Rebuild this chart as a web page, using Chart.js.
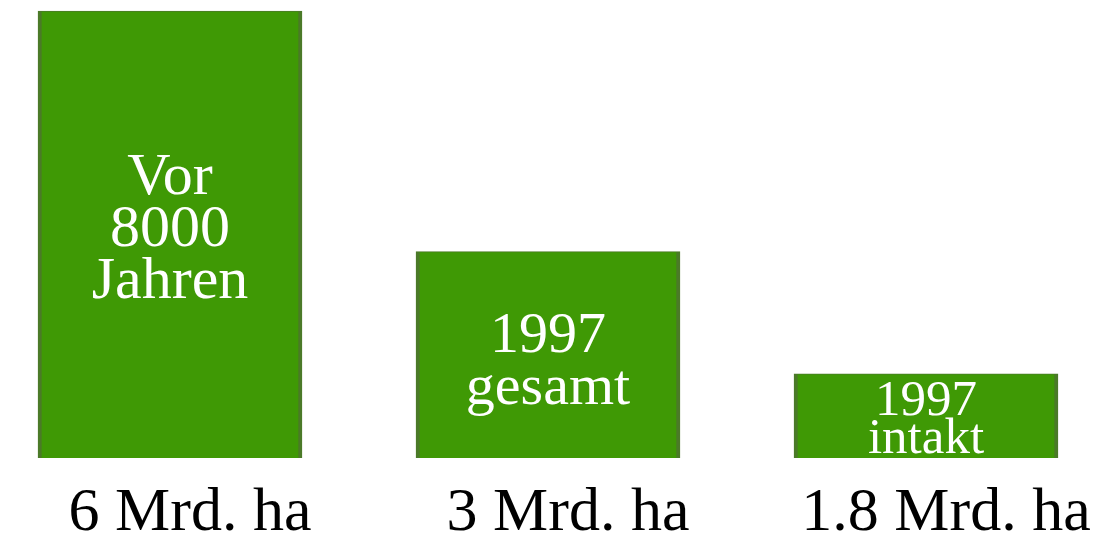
<!DOCTYPE html>
<html>
<head>
<meta charset="utf-8">
<script src="https://cdn.jsdelivr.net/npm/chart.js@4.4.0/dist/chart.umd.min.js"></script>
<style>
    html, body { margin: 0; padding: 0; background: #fff; }
</style>
</head>
<body>
<canvas id="flaecheChart" width="1110" height="536"></canvas>
<script>
// Werte aus dem Bild
const kategorien = ['6 Mrd. ha', '3 Mrd. ha', '1.8 Mrd. ha'];
const balkenTexte = [['Vor', '8000', 'Jahren'], ['1997', 'gesamt'], ['1997', 'intakt']];
const balkenHoehen = [6, 2.77, 1.13];

// Schrift im Balken: Groesse, Zeilenabstand, vertikale Verschiebung
const innenStil = [
    { size: 60, lh: 52, dy: -4 },
    { size: 58, lh: 52, dy: 8 },
    { size: 51, lh: 38, dy: 5 }
];

const textPlugin = {
    id: 'balkenTexte',
    afterDatasetsDraw(chart) {
        const ctx = chart.ctx;
        const meta = chart.getDatasetMeta(0);
        const xScale = chart.scales.x;
        const area = chart.chartArea;
        ctx.save();
        ctx.textAlign = 'center';

        // Text im Balken
        meta.data.forEach((bar, i) => {
            const st = innenStil[i];
            const zeilen = balkenTexte[i];
            const mitte = (bar.y + bar.base) / 2 + st.dy;
            ctx.font = st.size + 'px "Liberation Serif", "Times New Roman", serif';
            ctx.fillStyle = '#ffffff';
            ctx.textBaseline = 'middle';
            zeilen.forEach((t, j) => {
                const y = mitte + (j - (zeilen.length - 1) / 2) * st.lh;
                ctx.fillText(t, bar.x, y);
            });
        });

        // Beschriftung unter den Balken
        ctx.font = '62px "Liberation Serif", "Times New Roman", serif';
        ctx.fillStyle = '#000000';
        ctx.textBaseline = 'alphabetic';
        kategorien.forEach((lab, i) => {
            const x = xScale.getPixelForTick(i) + 20;
            ctx.fillText(lab, x, area.bottom + 72);
        });
        ctx.restore();
    }
};

const ctx = document.getElementById('flaecheChart').getContext('2d');
new Chart(ctx, {
    type: 'bar',
    data: {
        labels: kategorien,
        datasets: [{
            data: balkenHoehen,
            backgroundColor: '#3f9905',
            borderColor: '#4b7a28',
            borderWidth: { left: 4, right: 4, top: 1, bottom: 0 },
            borderSkipped: false,
            barThickness: 264,
            clip: false
        }]
    },
    options: {
        responsive: false,
        animation: false,
        devicePixelRatio: 1,
        layout: {
            padding: { left: 170, right: 184, top: 11, bottom: 78 }
        },
        plugins: {
            legend: { display: false },
            tooltip: { enabled: false }
        },
        scales: {
            x: {
                offset: false,
                display: false
            },
            y: {
                min: 0,
                max: 6,
                display: false
            }
        }
    },
    plugins: [textPlugin]
});
</script>
</body>
</html>
